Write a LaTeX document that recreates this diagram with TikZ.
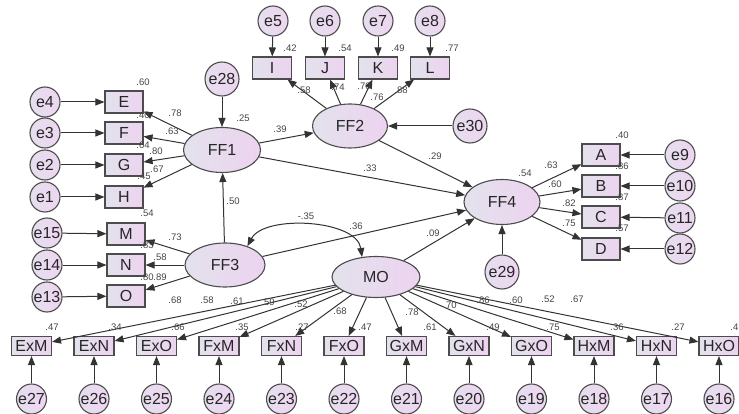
\documentclass[tikz,border=0pt]{standalone}
\usepackage{fontspec}
\setmainfont{Liberation Sans}
\usetikzlibrary{shapes.geometric,arrows.meta}
\definecolor{ln}{HTML}{333333}
\definecolor{bord}{HTML}{4C4C4C}
\definecolor{gl}{HTML}{E3E2EC}
\definecolor{gr}{HTML}{EDD3F0}
\definecolor{cl}{HTML}{E6DEEE}
\definecolor{cr}{HTML}{EDD6F0}
\definecolor{labc}{HTML}{444444}
\newcommand\fsz[1]{\fontsize{#1}{#1}\selectfont}
\tikzset{
  lat/.style={ellipse, draw=bord, line width=1.1pt, left color=gl, right color=gr, inner sep=0pt, font=\fsz{16}, text=black!85},
  obs/.style={rectangle, draw=bord, line width=1.1pt, left color=gl, right color=gr, minimum width=38pt, minimum height=22pt, inner sep=0pt, font=\fsz{16}, text=black!85},
  bobs/.style={obs, minimum width=40pt, minimum height=19pt},
  err/.style={circle, draw=bord, line width=1.1pt, left color=cl, right color=cr, minimum size=30pt, inner sep=0pt, font=\fsz{16}, text=black!85},
  berr/.style={err, minimum size=34pt},
  pth/.style={draw=ln, line width=1pt, -{Triangle[length=9pt,width=7pt]}},
  dbl/.style={draw=ln, line width=1pt, {Triangle[length=9pt,width=7pt]}-{Triangle[length=9pt,width=7pt]}},
  lab/.style={font=\fsz{9.5}, text=labc, inner sep=0pt}
}
\begin{document}
\begin{tikzpicture}[x=1pt,y=-1pt]
\useasboundingbox (0,0) rectangle (739,414);
% latent variables
\node[lat, minimum width=77pt, minimum height=45pt] (FF1) at (222,150) {FF1};
\node[lat, minimum width=75pt, minimum height=44pt] (FF2) at (350,126) {FF2};
\node[lat, minimum width=80pt, minimum height=44pt] (FF3) at (225,265) {FF3};
\node[lat, minimum width=76pt, minimum height=45pt] (FF4) at (502,202) {FF4};
\node[lat, minimum width=88pt, minimum height=41pt] (MO) at (376,277) {MO};
% FF1 indicators
\node[obs] (E) at (124,102) {E};
\node[obs] (F) at (124,133) {F};
\node[obs] (G) at (124,165) {G};
\node[obs] (H) at (124,197) {H};
\node[err] (e4) at (45,102) {e4};
\node[err] (e3) at (45,133) {e3};
\node[err] (e2) at (45,165) {e2};
\node[err] (e1) at (45,197) {e1};
\node[berr] (e28) at (222,79) {e28};
% FF2 indicators
\node[obs, minimum width=39pt] (I) at (272,68) {I};
\node[obs, minimum width=39pt] (J) at (325,68) {J};
\node[obs, minimum width=39pt] (K) at (378,68) {K};
\node[obs, minimum width=39pt] (L) at (430,68) {L};
\node[err] (e5) at (273,21) {e5};
\node[err] (e6) at (325,21) {e6};
\node[err] (e7) at (378,21) {e7};
\node[err] (e8) at (430,21) {e8};
\node[berr] (e30) at (470,126) {e30};
% FF4 indicators
\node[obs] (A) at (601,155) {A};
\node[obs] (B) at (601,186) {B};
\node[obs] (C) at (601,217) {C};
\node[obs] (D) at (601,249) {D};
\node[err] (e9) at (680,155) {e9};
\node[err] (e10) at (680,186) {e10};
\node[err] (e11) at (680,218) {e11};
\node[err] (e12) at (680,249) {e12};
\node[berr] (e29) at (502,272) {e29};
% FF3 indicators
\node[obs] (M) at (126,234) {M};
\node[obs] (N) at (126,265) {N};
\node[obs] (O) at (126,296) {O};
\node[err] (e15) at (47,233) {e15};
\node[err] (e14) at (47,265) {e14};
\node[err] (e13) at (47,297) {e13};
% MO indicators
\foreach \n [count=\k from 0] in {ExM,ExN,ExO,FxM,FxN,FxO,GxM,GxN,GxO,HxM,HxN,HxO}{
  \node[bobs] (\n) at ({31.5+62.5*\k},346) {\n};
}
\foreach \e [count=\k from 0] in {e27,e26,e25,e24,e23,e22,e21,e20,e19,e18,e17,e16}{
  \node[err] (\e) at ({31.5+62.5*\k},399) {\e};
}
% paths
\foreach \a/\b in {e4/E,e3/F,e2/G,e1/H,FF1/E,FF1/F,FF1/G,FF1/H,e28/FF1,
  e5/I,e6/J,e7/K,e8/L,FF2/I,FF2/J,FF2/K,FF2/L,e30/FF2,FF1/FF2,FF1/FF4,FF2/FF4,
  FF4/A,FF4/B,FF4/C,FF4/D,e9/A,e10/B,e11/C,e12/D,e29/FF4,
  FF3/FF1,FF3/M,FF3/N,FF3/O,e15/M,e14/N,e13/O,FF3/FF4,MO/FF4}{
  \draw[pth] (\a) -- (\b);
}
\foreach \n/\e in {ExM/e27,ExN/e26,ExO/e25,FxM/e24,FxN/e23,FxO/e22,GxM/e21,GxN/e20,GxO/e19,HxM/e18,HxN/e17,HxO/e16}{
  \draw[pth] (MO) -- (\n);
  \draw[pth] (\e) -- (\n);
}
\draw[dbl] (FF3.40) .. controls +(-62:36) and +(-98:38) .. (MO.125);
% labels
\node[lab] (l1) at (143,82) {.60};
\node[lab] (l2) at (175,113) {.78};
\node[lab] (l3) at (143,115) {.40};
\node[lab] (l4) at (172,131) {.63};
\node[lab] (l5) at (143,145) {.64};
\node[lab] (l6) at (156,151) {.80};
\node[lab] (l7) at (157,169) {.67};
\node[lab] (l8) at (144,176) {.45};
\node[lab] (l9) at (147,213) {.54};
\node[lab] (l10) at (243,118) {.25};
\node[lab] (l11) at (280,129) {.39};
\node[lab] (l12) at (370,168) {.33};
\node[lab] (l13) at (435,156) {.29};
\node[lab] (l14) at (233,201) {.50};
\node[lab] (l15) at (304,90) {.58};
\node[lab] (l16) at (338,87) {.74};
\node[lab] (l17) at (364,86) {.70};
\node[lab] (l18) at (377,97) {.76};
\node[lab] (l19) at (401,90) {.88};
\node[lab] (l20) at (290,48) {.42};
\node[lab] (l21) at (345,48) {.54};
\node[lab] (l22) at (398,48) {.49};
\node[lab] (l23) at (452,48) {.77};
\node[lab] (l24) at (525,173) {.54};
\node[lab] (l25) at (551,165) {.63};
\node[lab] (l26) at (555,184) {.60};
\node[lab] (l27) at (569,203) {.82};
\node[lab] (l28) at (569,223) {.75};
\node[lab] (l29) at (622,135) {.40};
\node[lab] (l30) at (622,166) {.86};
\node[lab] (l31) at (622,197) {.87};
\node[lab] (l32) at (622,228) {.57};
\node[lab] (l33) at (175,237) {.73};
\node[lab] (l34) at (147,245) {.83};
\node[lab] (l35) at (160,257) {.58};
\node[lab] (l36) at (147,277) {.80};
\node[lab] (l37) at (160,277) {.89};
\node[lab] (l38) at (306,216) {-.35};
\node[lab] (l39) at (356,226) {.36};
\node[lab] (l40) at (433,233) {.09};
\node[lab] (l41) at (175,300) {.68};
\node[lab] (l42) at (207,300) {.58};
\node[lab] (l43) at (237,301) {.61};
\node[lab] (l44) at (268,302) {.59};
\node[lab] (l45) at (301,304) {.52};
\node[lab] (l46) at (340,311) {.68};
\node[lab] (l47) at (412,312) {.78};
\node[lab] (l48) at (450,305) {.70};
\node[lab] (l49) at (483,300) {.86};
\node[lab] (l50) at (516,300) {.60};
\node[lab] (l51) at (548,299) {.52};
\node[lab] (l52) at (577,299) {.67};
\node[lab] (l53) at (52,327) {.47};
\node[lab] (l54) at (115,327) {.34};
\node[lab] (l55) at (178,327) {.66};
\node[lab] (l56) at (242,327) {.35};
\node[lab] (l57) at (302,327) {.27};
\node[lab] (l58) at (365,327) {.47};
\node[lab] (l59) at (430,327) {.61};
\node[lab] (l60) at (493,327) {.49};
\node[lab] (l61) at (553,327) {.75};
\node[lab] (l62) at (617,327) {.36};
\node[lab] (l63) at (678,327) {.27};
\node[lab, anchor=east] (l64) at (738.5,327) {.4};
\end{tikzpicture}
\end{document}
